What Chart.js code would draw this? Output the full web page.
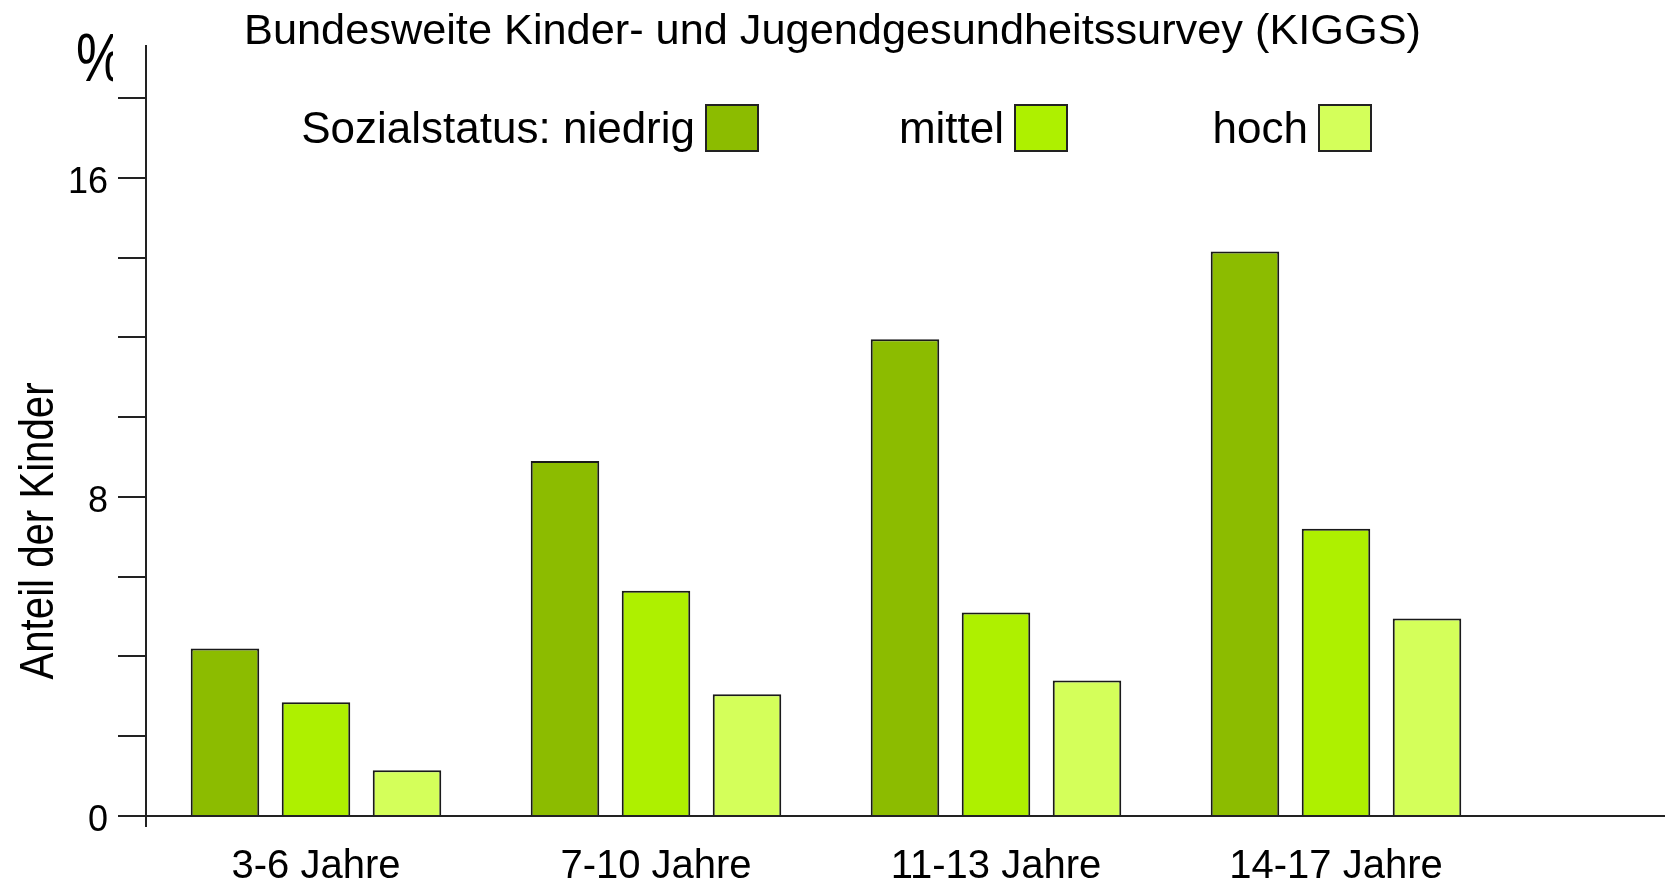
<!DOCTYPE html>
<html>
<head>
<meta charset="utf-8">
<script src="https://cdn.jsdelivr.net/npm/chart.js@4"></script>
<style>
  html, body { margin: 0; padding: 0; background: #fff; }
  #wrap { width: 1665px; height: 885px; position: relative; }
</style>
</head>
<body>
<div id="wrap"><canvas id="chart"></canvas></div>
<script>
// values (percent)
const ageGroups = ['3-6 Jahre', '7-10 Jahre', '11-13 Jahre', '14-17 Jahre']
const niedrig = [4.2, 8.9, 11.95, 14.15]
const mittel = [2.85, 5.65, 5.1, 7.2]
const hoch = [1.15, 3.05, 3.4, 4.95]
const statusLabels = ['Sozialstatus: niedrig', 'mittel', 'hoch']
const yLabelled = [0, 8, 16]

const colors = ['#8cbc00', '#aef000', '#d4ff5a']
const fontFam = "'Liberation Sans', Arial, Helvetica, sans-serif"

// text legend (label left of box), axis title, % sign, axis line extension
const extras = {
  id: 'extras',
  afterDraw(chart) {
    const ctx = chart.ctx
    const area = chart.chartArea
    const y0 = chart.scales.y.getPixelForValue(0)
    ctx.save()
    ctx.strokeStyle = '#222'
    ctx.lineWidth = 2
    ctx.beginPath()
    ctx.moveTo(area.right, y0)
    ctx.lineTo(chart.width, y0)
    ctx.moveTo(area.left, area.bottom)
    ctx.lineTo(area.left, area.bottom + 11)
    ctx.stroke()

    // legend
    const boxX = [706, 1015, 1319]
    ctx.font = '44px ' + fontFam
    ctx.textAlign = 'right'
    ctx.textBaseline = 'alphabetic'
    chart.data.datasets.forEach((ds, i) => {
      ctx.fillStyle = '#000'
      ctx.fillText(statusLabels[i], boxX[i] - 11, 143)
      ctx.fillStyle = ds.backgroundColor
      ctx.fillRect(boxX[i], 105, 52, 46)
      ctx.lineWidth = 2
      ctx.strokeStyle = '#222'
      ctx.strokeRect(boxX[i], 105, 52, 46)
    })

    // y axis title (narrow face in the original)
    ctx.save()
    ctx.translate(53, 531)
    ctx.rotate(-Math.PI / 2)
    ctx.scale(0.82, 1)
    ctx.font = '49px ' + fontFam
    ctx.textAlign = 'center'
    ctx.fillStyle = '#000'
    ctx.fillText('Anteil der Kinder', 0, 0)
    ctx.restore()

    // percent sign, cut off on the right like in the original
    ctx.save()
    ctx.beginPath()
    ctx.rect(0, 0, 113, 120)
    ctx.clip()
    ctx.translate(76, 81)
    ctx.scale(0.8, 1)
    ctx.font = '68px ' + fontFam
    ctx.textAlign = 'left'
    ctx.fillStyle = '#000'
    ctx.fillText('%', 0, 0)
    ctx.restore()
    ctx.restore()
  }
}

const chart = new Chart(document.getElementById('chart'), {
  type: 'bar',
  data: {
    labels: ageGroups,
    datasets: [
      { label: statusLabels[0], data: niedrig, backgroundColor: colors[0] },
      { label: statusLabels[1], data: mittel, backgroundColor: colors[1] },
      { label: statusLabels[2], data: hoch, backgroundColor: colors[2] }
    ]
  },
  options: {
    responsive: true,
    maintainAspectRatio: false,
    animation: false,
    layout: { padding: 0 },
    datasets: {
      bar: {
        borderColor: '#1a1a1a',
        borderWidth: 2,
        categoryPercentage: 0.803,
        barPercentage: 0.753
      }
    },
    plugins: {
      legend: { display: false },
      tooltip: { enabled: false },
      title: {
        display: true,
        text: 'Bundesweite Kinder- und Jugendgesundheitssurvey (KIGGS)',
        color: '#000',
        font: { family: fontFam, size: 43.3, weight: 'normal', lineHeight: 0.65 },
        padding: { top: 18, bottom: 0 }
      }
    },
    scales: {
      x: {
        grid: { display: false, drawTicks: false },
        border: { display: true, color: '#222', width: 2 },
        ticks: {
          color: '#000',
          padding: 27,
          font: { family: fontFam, size: 40 }
        },
        afterFit: scale => { scale.height = 69 }
      },
      y: {
        min: 0,
        max: 19.3,
        grid: {
          display: true,
          drawOnChartArea: false,
          drawTicks: true,
          tickLength: 28,
          color: '#222',
          lineWidth: 2
        },
        border: { display: true, color: '#222', width: 2 },
        ticks: {
          stepSize: 2,
          includeBounds: false,
          padding: 10,
          labelOffset: 5,
          color: '#000',
          font: { family: fontFam, size: 36 },
          callback: v => yLabelled.includes(v) ? String(v) : ''
        },
        afterFit: scale => { scale.width = 146 }
      },
      // empty space on the right, the baseline runs through it
      spacer: {
        type: 'linear',
        position: 'right',
        display: true,
        grid: { display: false, drawTicks: false },
        border: { display: false },
        ticks: { display: false },
        afterFit: scale => { scale.width = 159 }
      }
    }
  },
  plugins: [extras]
})
</script>
</body>
</html>
